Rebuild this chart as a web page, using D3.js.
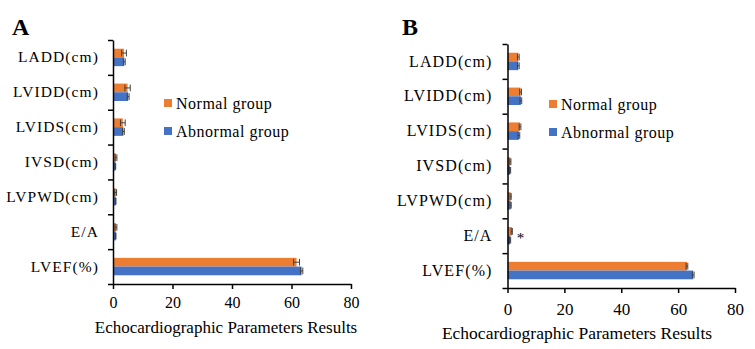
<!DOCTYPE html>
<html lang="en">
<head>
    <meta charset="UTF-8">
    <title>Echocardiographic Parameters</title>
    <script src="https://cdn.jsdelivr.net/npm/d3@7/dist/d3.min.js"></script>
    <style>
        body { margin: 0; background: #fff; }
        text { font-family: "Liberation Serif", "Times New Roman", serif; fill: #000; }
    </style>
</head>
<body>
<script>
    // data
    const categories = ["LADD(cm)", "LVIDD(cm)", "LVIDS(cm)", "IVSD(cm)", "LVPWD(cm)", "E/A", "LVEF(%)"];
    const seriesNames = ["Normal group", "Abnormal group"];
    const xTicks = [0, 20, 40, 60, 80];

    const normalA = [3.7, 4.9, 3.3, 1.0, 0.9, 1.0, 61.7];
    const normalAErr = [0.8, 0.9, 0.8, 0.3, 0.3, 0.3, 1.0];
    const abnormalA = [3.8, 5.1, 3.5, 0.8, 0.9, 0.9, 63.4];
    const abnormalAErr = [0.3, 0.3, 0.3, 0.1, 0.1, 0.1, 0.4];

    const normalB = [3.8, 4.6, 4.4, 1.0, 1.1, 1.5, 63.1];
    const normalBErr = [0.3, 0.3, 0.3, 0.2, 0.2, 0.2, 0.3];
    const abnormalB = [3.8, 4.7, 4.0, 0.9, 1.1, 0.9, 65.3];
    const abnormalBErr = [0.3, 0.3, 0.3, 0.2, 0.2, 0.2, 0.3];

    const colors = ["#ED7D31", "#4472C4"];

    let width = 755;
    let height = 349;
    let svg = d3.select("body").append("svg")
        .attr("width", width)
        .attr("height", height);

    function drawPanel(p) {
        let g = svg.append("g");

        let x = d3.scaleLinear()
            .domain([0, 80])
            .range([p.left, p.right]);

        let y = d3.scaleBand()
            .domain(categories)
            .range([p.top, p.bottom])
            .paddingInner(0.5)
            .paddingOuter(0.25);

        let ySub = d3.scaleBand()
            .domain(seriesNames)
            .range([0, y.bandwidth()]);

        // boundary ticks between categories
        let yb = d3.scaleLinear().domain([0, categories.length]).range([p.top, p.bottom]);

        let rows = categories.map((c, i) => ({
            cat: c,
            vals: [
                {name: seriesNames[0], v: p.normal[i], e: p.normalErr[i]},
                {name: seriesNames[1], v: p.abnormal[i], e: p.abnormalErr[i]}
            ]
        }));

        let groups = g.selectAll(".row")
            .data(rows)
            .join("g")
            .attr("transform", d => `translate(0,${y(d.cat)})`);

        groups.selectAll("rect")
            .data(d => d.vals)
            .join("rect")
            .attr("x", x(0))
            .attr("y", d => ySub(d.name))
            .attr("width", d => x(d.v) - x(0))
            .attr("height", ySub.bandwidth())
            .attr("fill", (d, i) => colors[i]);

        // error bars
        let eb = groups.selectAll(".err")
            .data(d => d.vals)
            .join("g")
            .attr("stroke", "#404040")
            .attr("stroke-width", 1);
        eb.append("line")
            .attr("x1", d => x(d.v - d.e))
            .attr("x2", d => x(d.v + d.e))
            .attr("y1", d => ySub(d.name) + ySub.bandwidth() / 2)
            .attr("y2", d => ySub(d.name) + ySub.bandwidth() / 2);
        eb.selectAll(".cap")
            .data(d => [d.v - d.e, d.v + d.e].map(v => ({v: v, name: d.name})))
            .join("line")
            .attr("x1", d => x(d.v))
            .attr("x2", d => x(d.v))
            .attr("y1", d => ySub(d.name) + 1)
            .attr("y2", d => ySub(d.name) + ySub.bandwidth() - 1);

        // y axis: category labels
        let yAxis = d3.axisLeft(y).tickSize(0).tickPadding(p.labelPad);
        let ya = g.append("g")
            .attr("transform", `translate(${x(0)},0)`)
            .call(yAxis);
        ya.select(".domain").remove();
        ya.selectAll("text")
            .attr("font-size", p.labelSize + "px")
            .attr("letter-spacing", p.labelSpacing + "px");

        let yTickAxis = d3.axisLeft(yb)
            .tickValues(d3.range(0, categories.length + 1))
            .tickFormat("")
            .tickSizeInner(5)
            .tickSizeOuter(0);
        let yt = g.append("g")
            .attr("transform", `translate(${x(0)},0)`)
            .call(yTickAxis);
        yt.selectAll("path, line").attr("stroke", "#000").attr("stroke-width", 1.5);

        // x axis
        let xAxis = d3.axisBottom(x)
            .tickValues(xTicks)
            .tickSizeInner(5)
            .tickSizeOuter(0)
            .tickPadding(p.tickPad);
        let xa = g.append("g")
            .attr("transform", `translate(0,${p.bottom})`)
            .call(xAxis);
        xa.selectAll("path, line").attr("stroke", "#000").attr("stroke-width", 1.5);
        xa.selectAll("text").attr("font-size", p.tickSize + "px");

        g.append("text")
            .attr("x", p.titleX)
            .attr("y", p.titleY)
            .attr("text-anchor", "middle")
            .attr("font-size", p.titleSize + "px")
            .text("Echocardiographic Parameters Results");

        // panel letter
        g.append("text")
            .attr("x", p.letterX)
            .attr("y", 35)
            .attr("font-size", "24px")
            .attr("font-weight", "bold")
            .text(p.letter);

        // legend
        let lg = g.selectAll(".leg")
            .data(seriesNames)
            .join("g")
            .attr("transform", (d, i) => `translate(${p.legX},${p.legY + i * 28})`);
        lg.append("rect")
            .attr("x", 0).attr("y", -10)
            .attr("width", 8).attr("height", 8)
            .attr("fill", (d, i) => colors[i]);
        lg.append("text")
            .attr("x", 12)
            .attr("y", 0)
            .attr("font-size", p.legSize + "px")
            .attr("letter-spacing", "0.5px")
            .text(d => d);

        if (p.star) {
            g.append("text")
                .attr("x", x(p.normal[5]) + 5)
                .attr("y", y("E/A") + y.bandwidth() / 2 + 7)
                .attr("font-size", "15px")
                .text("*");
        }
    }

    drawPanel({
        letter: "A", letterX: 12,
        left: 113, right: 351, top: 40, bottom: 284,
        normal: normalA, normalErr: normalAErr,
        abnormal: abnormalA, abnormalErr: abnormalAErr,
        labelPad: 14, labelSize: 15.5, labelSpacing: 1.1,
        tickPad: 8, tickSize: 16,
        titleX: 226, titleY: 333, titleSize: 17,
        legX: 164, legY: 109, legSize: 16,
        star: false
    });

    drawPanel({
        letter: "B", letterX: 402,
        left: 507.5, right: 735, top: 44, bottom: 288,
        normal: normalB, normalErr: normalBErr,
        abnormal: abnormalB, abnormalErr: abnormalBErr,
        labelPad: 15, labelSize: 16, labelSpacing: 1.1,
        tickPad: 10, tickSize: 17,
        titleX: 577, titleY: 339, titleSize: 17.5,
        legX: 549, legY: 110, legSize: 16,
        star: true
    });
</script>
</body>
</html>
